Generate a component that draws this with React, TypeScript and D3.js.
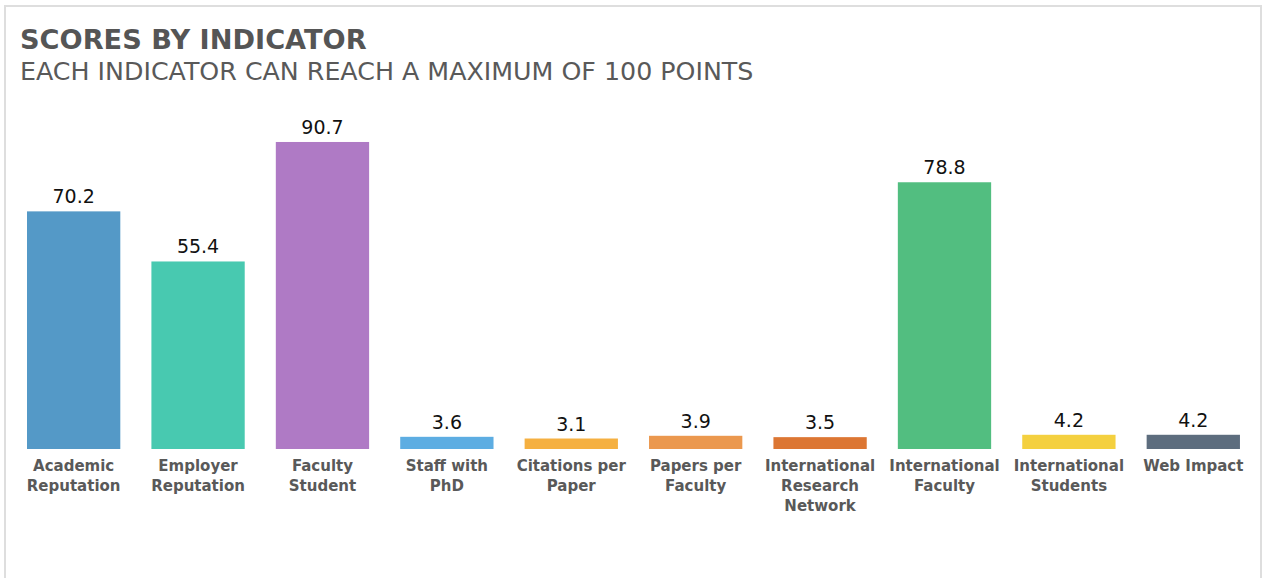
import React from "react";
import * as d3 from "d3";

const categories: string[][] = [
  ["Academic", "Reputation"],
  ["Employer", "Reputation"],
  ["Faculty", "Student"],
  ["Staff with", "PhD"],
  ["Citations per", "Paper"],
  ["Papers per", "Faculty"],
  ["International", "Research", "Network"],
  ["International", "Faculty"],
  ["International", "Students"],
  ["Web Impact"],
];
const values: number[] = [70.2, 55.4, 90.7, 3.6, 3.1, 3.9, 3.5, 78.8, 4.2, 4.2];
const colors: string[] = [
  "#5499c7",
  "#48c9b0",
  "#af7ac5",
  "#5dade2",
  "#f5b041",
  "#eb984e",
  "#dc7633",
  "#52be80",
  "#f4d03f",
  "#5d6d7e",
];
const title = "SCORES BY INDICATOR";
const subtitle = "EACH INDICATOR CAN REACH A MAXIMUM OF 100 POINTS";

const W = 1262;
const H = 578;
const FONT = "'DejaVu Sans', sans-serif";

export default function App() {
  const idx = values.map((_, i) => String(i));
  const x = d3
    .scaleBand<string>()
    .domain(idx)
    .range([11.45, 1255.5])
    .paddingInner(0.25)
    .paddingOuter(0.125);
  const y = d3.scaleLinear().domain([0, 100]).range([449, 110.5]);

  return (
    <svg
      width={W}
      height={H}
      style={{ position: "absolute", left: 0, top: 0, background: "#fff" }}
    >
      <rect x={5} y={6} width={1256} height={640} fill="#fff" stroke="#dedede" strokeWidth={2} />
      <text x={20} y={48.5} fontFamily={FONT} fontWeight="bold" fontSize={27.2} fill="#555">
        {title}
      </text>
      <text x={20} y={80} fontFamily={FONT} fontSize={25.3} fill="#595959">
        {subtitle}
      </text>
      {values.map((v, i) => {
        const bx = x(String(i))!;
        const bw = x.bandwidth();
        return (
          <g key={i}>
            <rect x={bx} y={y(v)} width={bw} height={y(0) - y(v)} fill={colors[i]} />
            <text
              x={bx + bw / 2}
              y={y(v) - 8}
              textAnchor="middle"
              fontFamily={FONT}
              fontSize={19}
              fill="#111"
            >
              {v.toFixed(1)}
            </text>
            <text
              x={bx + bw / 2}
              y={y(0) + 22}
              textAnchor="middle"
              fontFamily={FONT}
              fontWeight="bold"
              fontSize={15}
              fill="#595959"
            >
              {categories[i].map((line, j) => (
                <tspan key={j} x={bx + bw / 2} dy={j === 0 ? 0 : 20}>
                  {line}
                </tspan>
              ))}
            </text>
          </g>
        );
      })}
    </svg>
  );
}
